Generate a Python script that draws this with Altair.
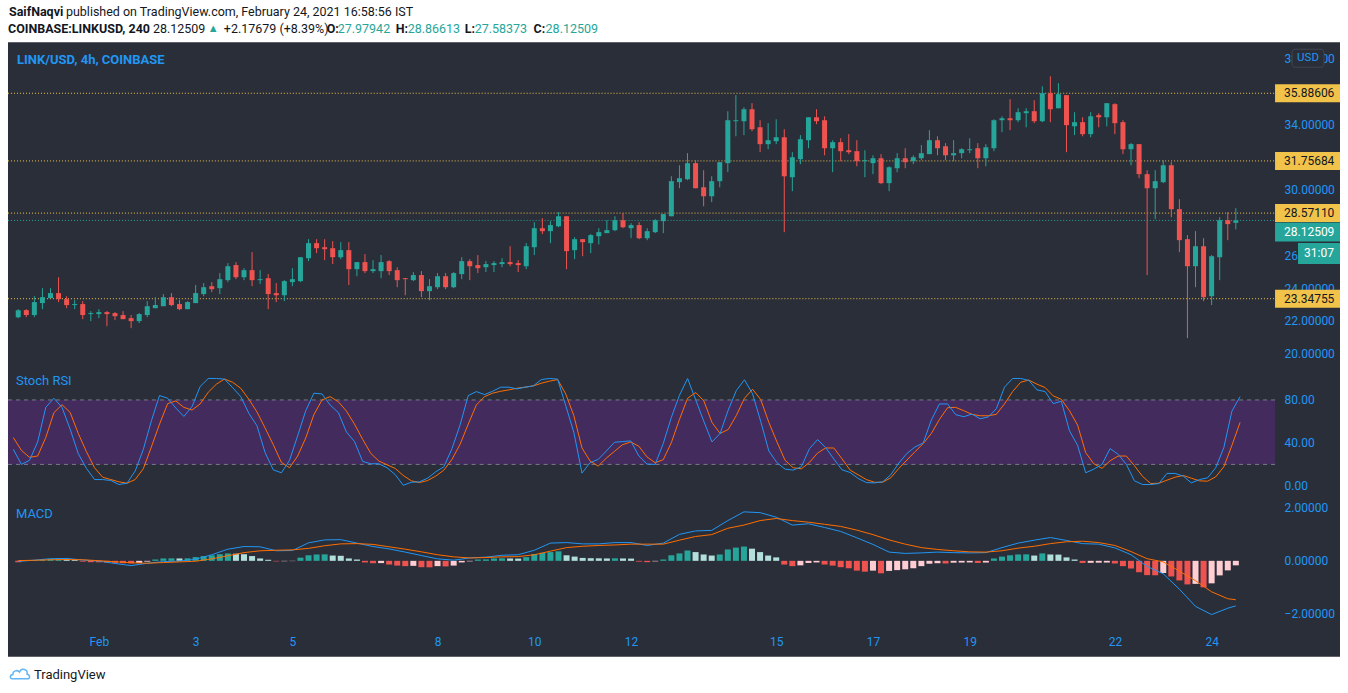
import altair as alt
import pandas as pd

# ---------------- data ----------------
opens = [22.22, 22.65, 22.35, 23.08, 23.38, 23.69, 23.32, 22.96, 23.02, 22.41,
         22.41, 22.53, 22.47, 22.35, 22.16, 21.98, 22.35, 22.77, 22.89, 23.44,
         23.02, 22.71, 23.08, 23.63, 24.11, 23.99, 24.48, 25.40, 24.66, 25.09,
         24.48, 24.60, 23.69, 23.56, 24.36, 24.42, 25.82, 26.74, 26.49, 26.43,
         25.88, 26.31, 25.15, 25.58, 25.03, 25.03, 25.64, 25.09, 24.60, 24.48,
         24.79, 23.81, 24.05, 24.72, 24.05, 24.85, 25.64, 25.40, 25.27, 25.40,
         25.46, 25.58, 25.52, 25.33, 26.49, 27.65, 27.47, 27.77, 28.38, 26.31,
         26.98, 26.74, 27.16, 27.35, 27.53, 28.14, 27.65, 27.84, 27.04, 27.41,
         28.08, 28.38, 30.46, 30.64, 31.62, 30.15, 29.60, 30.52, 31.62, 34.18,
         34.18, 34.91, 33.81, 32.78, 32.96, 33.20, 30.76, 31.86, 33.02, 34.42,
         34.24, 32.53, 32.90, 32.41, 32.35, 31.74, 31.62, 31.92, 30.40, 31.31,
         31.92, 31.74, 31.92, 32.17, 33.02, 32.65, 32.10, 32.23, 32.41, 32.53,
         31.92, 32.53, 34.24, 34.36, 34.24, 34.67, 34.79, 34.18, 35.89, 34.97,
         35.77, 33.87, 34.12, 33.39, 34.55, 34.42, 35.22, 34.12, 32.47, 32.78,
         30.95, 30.09, 30.46, 31.49, 28.81, 26.98, 25.33, 26.55, 23.50, 25.88,
         28.14, 27.98]
highs = [22.71, 22.71, 23.50, 23.99, 23.99, 24.66, 23.50, 23.26, 23.20, 22.59,
         22.71, 22.59, 22.53, 22.59, 22.35, 22.47, 23.20, 23.44, 23.63, 23.69,
         23.26, 23.20, 24.18, 24.30, 24.36, 24.91, 25.52, 25.58, 25.21, 26.19,
         25.09, 24.85, 24.30, 24.48, 25.21, 25.88, 26.98, 26.98, 26.98, 26.86,
         26.80, 26.80, 25.58, 26.07, 25.70, 26.01, 25.70, 25.27, 24.60, 24.97,
         25.03, 24.54, 24.91, 24.91, 24.97, 25.88, 25.76, 26.01, 25.64, 25.64,
         25.82, 26.55, 25.70, 26.74, 28.02, 28.26, 28.08, 28.63, 28.38, 27.10,
         26.98, 27.29, 27.65, 28.14, 28.38, 28.57, 27.96, 28.02, 27.65, 28.20,
         28.51, 30.82, 31.49, 32.23, 31.80, 31.19, 30.82, 31.68, 34.79, 35.77,
         35.03, 35.28, 34.24, 34.06, 34.30, 33.69, 32.29, 33.33, 34.42, 34.91,
         34.48, 33.02, 33.14, 33.39, 33.02, 32.41, 32.10, 32.17, 31.43, 32.23,
         32.53, 32.10, 32.72, 33.63, 33.26, 32.84, 33.02, 32.53, 33.14, 32.84,
         32.78, 34.30, 34.48, 35.52, 34.97, 34.97, 35.46, 36.31, 36.92, 36.50,
         35.77, 34.73, 34.42, 34.73, 34.67, 35.28, 35.28, 34.24, 32.84, 32.78,
         31.19, 31.19, 31.80, 31.68, 29.42, 27.23, 27.47, 27.04, 26.01, 28.32,
         28.63, 28.87]
lows = [22.16, 22.22, 22.22, 22.71, 23.38, 23.14, 22.77, 22.71, 22.10, 21.98,
        22.16, 21.67, 22.04, 22.10, 21.55, 21.86, 22.22, 22.77, 22.89, 22.89,
        22.65, 22.71, 23.08, 23.50, 23.75, 23.63, 24.36, 24.54, 24.48, 24.11,
        24.24, 22.71, 23.14, 23.20, 24.11, 24.36, 25.64, 26.13, 25.70, 25.46,
        25.76, 24.18, 24.72, 24.91, 24.91, 24.60, 24.79, 24.05, 23.56, 24.42,
        23.44, 23.26, 23.93, 23.93, 23.99, 24.54, 24.48, 24.91, 24.97, 24.97,
        25.27, 25.33, 24.97, 25.15, 26.01, 27.29, 26.74, 27.71, 25.15, 25.76,
        25.94, 26.13, 26.66, 27.35, 27.47, 27.65, 27.04, 26.98, 26.92, 27.35,
        27.35, 28.38, 30.09, 30.58, 30.09, 28.99, 29.24, 30.15, 31.07, 33.26,
        33.33, 33.57, 32.29, 32.47, 32.78, 27.41, 29.91, 31.56, 32.53, 34.00,
        32.10, 31.07, 31.74, 32.17, 31.43, 30.76, 30.95, 30.34, 29.91, 31.07,
        31.31, 31.56, 31.80, 32.17, 32.10, 31.80, 31.74, 31.92, 32.23, 31.31,
        31.43, 32.35, 33.51, 33.63, 34.12, 33.81, 34.06, 34.12, 34.12, 34.97,
        32.29, 33.33, 33.26, 33.20, 33.81, 33.87, 33.39, 32.17, 31.49, 30.70,
        24.79, 28.20, 30.40, 28.32, 26.19, 20.94, 24.05, 23.20, 22.96, 24.48,
        26.92, 27.58]
closes = [22.65, 22.35, 23.14, 23.44, 23.69, 23.32, 22.96, 23.02, 22.35, 22.47,
          22.53, 22.41, 22.28, 22.10, 21.98, 22.41, 22.89, 22.96, 23.44, 22.96,
          22.71, 23.14, 23.69, 24.05, 23.93, 24.54, 25.33, 24.66, 25.09, 24.48,
          24.54, 23.63, 23.56, 24.42, 24.54, 25.88, 26.74, 26.43, 26.37, 25.88,
          26.31, 25.15, 25.58, 25.03, 25.15, 25.58, 25.03, 24.48, 24.54, 24.79,
          23.81, 24.11, 24.72, 24.05, 24.91, 25.64, 25.33, 25.21, 25.46, 25.52,
          25.58, 25.46, 25.40, 26.55, 27.65, 27.47, 27.84, 28.38, 26.25, 26.98,
          26.80, 27.23, 27.41, 27.53, 28.14, 27.71, 27.84, 27.04, 27.47, 28.14,
          28.51, 30.52, 30.70, 31.62, 30.09, 29.60, 30.52, 31.68, 34.24, 34.24,
          34.91, 33.69, 32.78, 33.02, 33.20, 30.82, 31.98, 33.08, 34.42, 34.18,
          32.53, 32.90, 32.35, 32.29, 31.74, 31.80, 31.92, 30.40, 31.37, 31.92,
          31.68, 31.98, 32.23, 33.02, 32.53, 32.10, 32.23, 32.47, 32.47, 31.92,
          32.59, 34.24, 34.36, 34.24, 34.73, 34.79, 34.18, 35.89, 34.91, 35.83,
          33.94, 34.12, 33.39, 34.48, 34.42, 35.28, 34.06, 32.47, 32.78, 30.95,
          30.09, 30.52, 31.49, 28.81, 26.92, 25.33, 26.55, 23.44, 25.94, 28.14,
          27.90, 28.13]

stoch_k = [34.1, 20.0, 23.8, 40.9, 73.1, 81.6, 73.1, 52.8, 30.0, 16.3,
           5.9, 5.9, 5.0, 1.3, 2.5, 13.8, 33.8, 60.6, 84.1, 81.6,
           72.5, 64.7, 73.8, 92.5, 100.0, 100.0, 99.4, 91.5, 83.1, 67.5,
           55.9, 30.9, 15.0, 12.2, 23.8, 46.6, 70.0, 86.3, 85.6, 75.3,
           68.4, 50.3, 41.3, 22.8, 20.6, 20.6, 16.9, 10.6, 0.6, 3.4,
           3.8, 7.2, 13.1, 17.8, 34.7, 56.9, 84.1, 87.8, 85.0, 88.1,
           91.9, 91.9, 90.3, 91.9, 93.1, 99.0, 100.0, 99.4, 74.7, 49.7,
           11.9, 21.6, 24.7, 32.5, 40.6, 41.3, 41.9, 27.8, 20.3, 20.0,
           39.4, 63.8, 84.4, 100.0, 80.0, 60.0, 40.9, 48.8, 70.6, 88.8,
           98.8, 85.6, 60.0, 32.5, 21.6, 15.6, 14.7, 17.8, 34.7, 43.1,
           35.6, 25.0, 15.0, 12.5, 6.9, 3.1, 2.8, 3.8, 10.3, 21.3,
           30.3, 36.3, 40.0, 61.3, 76.3, 76.3, 66.3, 64.4, 66.9, 62.5,
           64.1, 71.9, 91.9, 100.0, 100.0, 98.2, 89.4, 87.8, 76.6, 78.8,
           51.3, 37.8, 12.2, 15.6, 20.0, 34.7, 29.4, 20.0, 4.7, 1.3,
           1.3, 2.2, 11.6, 11.6, 9.1, 2.8, 5.9, 7.5, 16.9, 35.6,
           69.7, 83.1]
stoch_d = [45.0, 33.1, 26.6, 27.8, 45.0, 68.1, 75.6, 68.4, 48.8, 31.9,
           16.9, 8.1, 5.9, 3.8, 2.5, 5.9, 15.9, 36.3, 57.5, 76.6,
           79.1, 73.1, 70.6, 76.3, 87.2, 94.7, 99.5, 96.5, 90.9, 80.6,
           68.8, 53.8, 38.4, 21.9, 16.9, 27.8, 44.7, 66.3, 80.0, 83.1,
           78.4, 69.7, 57.5, 43.4, 30.3, 23.1, 19.7, 16.3, 9.7, 4.7,
           3.1, 5.0, 9.1, 14.7, 24.7, 38.8, 57.5, 75.3, 83.1, 86.3,
           88.1, 89.4, 90.9, 91.9, 93.1, 95.6, 97.5, 99.0, 85.6, 65.3,
           35.3, 23.1, 18.4, 25.9, 32.2, 38.4, 40.9, 36.9, 27.0, 21.6,
           24.4, 40.3, 61.9, 81.6, 86.9, 79.1, 59.1, 48.8, 52.5, 65.6,
           81.6, 90.0, 80.3, 59.1, 40.9, 23.8, 16.9, 15.9, 21.9, 30.6,
           35.3, 35.3, 25.3, 14.7, 10.3, 5.9, 3.4, 3.4, 7.5, 16.3,
           24.1, 31.9, 39.4, 48.8, 61.9, 72.8, 73.1, 70.0, 66.6, 65.3,
           65.3, 66.6, 76.3, 87.8, 96.5, 98.5, 94.7, 91.6, 83.8, 80.6,
           70.0, 56.6, 30.9, 20.6, 16.3, 23.4, 27.8, 27.8, 18.8, 8.8,
           2.2, 2.5, 5.3, 8.1, 9.7, 7.2, 4.7, 4.4, 8.4, 17.8,
           37.8, 59.1]

macd_idx = list(range(0, 151, 2)) + [151]
macd_line = [-0.02, 0.025, 0.08, 0.09, 0.03, -0.01, -0.10, -0.18, -0.09, -0.03,
             -0.01, 0.06, 0.23, 0.44, 0.54, 0.53, 0.38, 0.39, 0.68, 0.79,
             0.80, 0.67, 0.54, 0.45, 0.33, 0.20, 0.075, 0.025, 0.11, 0.14,
             0.21, 0.23, 0.40, 0.67, 0.69, 0.64, 0.64, 0.69, 0.69, 0.58,
             0.67, 1.00, 1.13, 1.15, 1.52, 1.85, 1.82, 1.65, 1.35, 1.40,
             1.26, 1.11, 0.87, 0.62, 0.33, 0.28, 0.30, 0.33, 0.31, 0.30,
             0.31, 0.50, 0.67, 0.78, 0.88, 0.77, 0.65, 0.63, 0.49, 0.23,
             -0.21, -0.49, -1.07, -1.72, -2.03, -1.79,
             -1.70]
signal_line = [0.01, 0.02, 0.04, 0.05, 0.04, 0.005, -0.035, -0.075, -0.09, -0.065,
               -0.04, -0.015, 0.075, 0.19, 0.31, 0.38, 0.40, 0.415, 0.47, 0.57,
               0.64, 0.65, 0.62, 0.53, 0.44, 0.34, 0.23, 0.15, 0.11, 0.125,
               0.15, 0.16, 0.23, 0.365, 0.50, 0.55, 0.58, 0.60, 0.63, 0.63,
               0.63, 0.78, 0.92, 0.99, 1.23, 1.35, 1.52, 1.60, 1.52, 1.46,
               1.38, 1.30, 1.16, 0.99, 0.79, 0.63, 0.50, 0.43, 0.38, 0.34,
               0.33, 0.38, 0.48, 0.55, 0.65, 0.72, 0.74, 0.69, 0.58, 0.35,
               0.08, -0.04, -0.39, -0.75, -1.17, -1.43,
               -1.47]
macd_hist = [-0.05, 0.02, 0.03, 0.05, 0.075, 0.08, 0.075, 0.05, -0.03, -0.05,
             -0.055, -0.065, -0.075, -0.09, -0.095, -0.08, -0.03, 0.05, 0.09, 0.095,
             0.09, 0.095, 0.14, 0.18, 0.21, 0.25, 0.28, 0.27, 0.25, 0.18,
             0.09, 0.04, -0.02, -0.015, -0.01, 0.12, 0.21, 0.24, 0.245, 0.20,
             0.19, 0.09, 0.05, -0.06, -0.09, -0.085, -0.14, -0.18, -0.20, -0.19,
             -0.24, -0.245, -0.20, -0.21, -0.18, -0.06, -0.02, 0.05, 0.055, 0.09,
             0.095, 0.09, 0.085, 0.14, 0.26, 0.30, 0.33, 0.36, 0.21, 0.16,
             0.11, 0.10, 0.095, 0.09, 0.095, 0.09, 0.085, -0.03, -0.05, -0.02,
             0.05, 0.21, 0.28, 0.39, 0.33, 0.24, 0.20, 0.24, 0.43, 0.50,
             0.54, 0.46, 0.33, 0.20, 0.13, -0.14, -0.20, -0.17, -0.08, -0.06,
             -0.14, -0.18, -0.24, -0.28, -0.37, -0.41, -0.37, -0.47, -0.38, -0.35,
             -0.32, -0.28, -0.20, -0.11, -0.09, -0.10, -0.07, -0.065, -0.06, -0.08,
             -0.065, 0.09, 0.16, 0.21, 0.24, 0.245, 0.20, 0.28, 0.24, 0.235,
             0.13, 0.05, -0.08, -0.075, -0.07, -0.065, -0.10, -0.20, -0.29, -0.43,
             -0.54, -0.545, -0.46, -0.59, -0.74, -0.89, -0.87, -1.00, -0.85, -0.55,
             -0.36, -0.17]

levels = [35.88606, 31.75684, 28.57110, 23.34755]
last_price = 28.12509
countdown = "31:07"

tick_idx = [10, 22, 34, 52, 64, 76, 94, 106, 118, 136, 148]
tick_lab = ["Feb", "3", "5", "8", "10", "12", "15", "17", "19", "22", "24"]
# 28, 32 and 36 sit fully under the level labels in the reference, so only the visible ones
price_ticks = [20, 22, 24, 26, 30, 34, 38]
stoch_ticks = [0, 40, 80]
macd_ticks = [-2, 0, 2]

# ---------------- layout / style ----------------
FONT = "Roboto"
BG = "#2A2E39"
AXBLUE = "#2196F3"
UP = "#26A69A"
DOWN = "#EF5350"
YEL = "#F2C34A"
PURPLE = "#432B5E"
KBLUE = "#2196F3"
DORANGE = "#FF6D00"
TXT = "#131722"

PANE_W = 1333
PLOT_R = 1268
HEAD_H, PRICE_H, STOCH_H, MACD_H, FOOT_H = 42, 326, 129, 160, 36
X_DOM = [-0.65, 163.3]
P_DOM = [19.12, 39.0]
S_DOM = [-10.23, 109.77]
M_DOM = [-3.623, 2.415]
PXU = PRICE_H / (P_DOM[1] - P_DOM[0])

one = pd.DataFrame({"k": [0]})
xs = alt.Scale(domain=X_DOM, nice=False, zero=False)


def yaxis(values, fmt):
    return alt.Axis(orient="right", offset=-(PANE_W - PLOT_R), values=values, format=fmt,
                    labelColor=AXBLUE, labelFont=FONT, labelFontSize=12, labelAlign="left",
                    labelBaseline="middle", labelPadding=9, ticks=False, domain=False,
                    grid=False, title=None, labelOverlap=False, labelBound=False)


def txt(s, x, y, size=12.5, weight="normal", color=TXT, align="left"):
    return alt.Chart(one).mark_text(text=s, align=align, baseline="middle", font=FONT,
                                    fontSize=size, fontWeight=weight, color=color).encode(
        x=alt.value(x), y=alt.value(y))


# ---------------- header ----------------
header = alt.layer(
    txt("SaifNaqvi", 1, 12, weight="bold"),
    txt("published on TradingView.com, February 24, 2021 16:58:56 IST", 58, 12),
    txt("COINBASE:LINKUSD, 240", 0, 29, weight="bold"),
    txt("28.12509", 145, 29),
    txt("▲", 200, 29, size=11, color=UP),
    txt("+2.17679 (+8.39%)", 216, 29),
    txt("O:", 319, 29, weight="bold"),
    txt("27.97942", 330, 29, color=UP),
    txt("H:", 388, 29, weight="bold"),
    txt("28.86613", 400, 29, color=UP),
    txt("L:", 457, 29, weight="bold"),
    txt("27.58373", 467, 29, color=UP),
    txt("C:", 526, 29, weight="bold"),
    txt("28.12509", 538, 29, color=UP),
).properties(width=PANE_W, height=HEAD_H)

# ---------------- price pane ----------------
ps = alt.Scale(domain=P_DOM, nice=False, zero=False)
pax = yaxis(price_ticks, ".5f")
cdf = pd.DataFrame({"i": list(range(len(opens))), "o": opens, "h": highs, "l": lows, "c": closes})
ccol = alt.condition("datum.c >= datum.o", alt.value(UP), alt.value(DOWN))
X = alt.X("i:Q", scale=xs, axis=None)

wicks = alt.Chart(cdf).mark_rule(strokeWidth=1).encode(
    x=X, y=alt.Y("l:Q", scale=ps, axis=pax), y2="h:Q", color=ccol)
bodies = alt.Chart(cdf).mark_bar(size=5).encode(
    x=X, y=alt.Y("o:Q", scale=ps, axis=pax), y2="c:Q", color=ccol)

ldf = pd.DataFrame({"p": levels, "lab": [f"{v:.5f}" for v in levels]})
ldf["top"] = ldf["p"] + 9 / PXU
ldf["bot"] = ldf["p"] - 9 / PXU
lvl_rules = alt.Chart(ldf).mark_rule(color=YEL, strokeDash=[1, 2], strokeWidth=1).encode(
    y=alt.Y("p:Q", scale=ps, axis=pax), x=alt.value(0), x2=alt.value(PLOT_R))
lvl_box = alt.Chart(ldf).mark_rect(color=YEL).encode(
    y=alt.Y("top:Q", scale=ps, axis=pax), y2="bot:Q", x=alt.value(PLOT_R), x2=alt.value(PANE_W))
lvl_txt = alt.Chart(ldf).mark_text(align="left", baseline="middle", font=FONT, fontSize=12,
                                   color=TXT).encode(
    y=alt.Y("p:Q", scale=ps, axis=pax), x=alt.value(PLOT_R + 9), text="lab:N")

lp = pd.DataFrame({"p": [last_price], "lab": [f"{last_price:.5f}"], "cd": [countdown]})
lp["bc"] = lp["p"] - 11.5 / PXU
lp["btop"] = lp["bc"] + 9.5 / PXU
lp["bbot"] = lp["bc"] - 9.5 / PXU
lp["cc"] = lp["p"] - 33 / PXU
lp["ctop"] = lp["cc"] + 10.5 / PXU
lp["cbot"] = lp["cc"] - 10.5 / PXU
lp_rule = alt.Chart(lp).mark_rule(color=UP, strokeDash=[1, 2], strokeWidth=1).encode(
    y=alt.Y("p:Q", scale=ps, axis=pax), x=alt.value(0), x2=alt.value(PLOT_R))
lp_box = alt.Chart(lp).mark_rect(color=UP).encode(
    y=alt.Y("btop:Q", scale=ps, axis=pax), y2="bbot:Q", x=alt.value(PLOT_R), x2=alt.value(PANE_W))
lp_txt = alt.Chart(lp).mark_text(align="left", baseline="middle", font=FONT, fontSize=12,
                                 color="white").encode(
    y=alt.Y("bc:Q", scale=ps, axis=pax), x=alt.value(PLOT_R + 9), text="lab:N")
cd_box = alt.Chart(lp).mark_rect(color=UP).encode(
    y=alt.Y("ctop:Q", scale=ps, axis=pax), y2="cbot:Q", x=alt.value(1291), x2=alt.value(PANE_W))
cd_txt = alt.Chart(lp).mark_text(align="center", baseline="middle", font=FONT, fontSize=12,
                                 color="white").encode(
    y=alt.Y("cc:Q", scale=ps, axis=pax), x=alt.value(1312), text="cd:N")

usd_btn = alt.Chart(one).mark_rect(fill=BG, stroke="#434651", strokeWidth=1, cornerRadius=3).encode(
    x=alt.value(1285), x2=alt.value(1317), y=alt.value(7), y2=alt.value(25))
usd_txt = txt("USD", 1301, 16, size=11.5, color=AXBLUE, align="center")
p_title = txt("LINK/USD, 4h, COINBASE", 9, 18, size=13, weight="bold", color=AXBLUE)

price = alt.layer(lvl_rules, lp_rule, wicks, bodies, lvl_box, lvl_txt, lp_box, lp_txt,
                  cd_box, cd_txt, usd_btn, usd_txt, p_title).properties(
    width=PANE_W, height=PRICE_H, view=alt.ViewBackground(fill=BG, strokeWidth=0))

# ---------------- stoch RSI pane ----------------
ss = alt.Scale(domain=S_DOM, nice=False, zero=False)
sax = yaxis(stoch_ticks, ".2f")
sdf = pd.DataFrame({"i": list(range(len(stoch_k))), "k": stoch_k, "d": stoch_d})
band = alt.Chart(one).mark_rect(color=PURPLE).encode(
    y=alt.Y(datum=80, scale=ss, axis=sax), y2=alt.Y2(datum=20), x=alt.value(0), x2=alt.value(PLOT_R))
bdf = pd.DataFrame({"v": [80, 20]})
band_lines = alt.Chart(bdf).mark_rule(color="#787B86", strokeDash=[4, 4], strokeWidth=1).encode(
    y=alt.Y("v:Q", scale=ss, axis=sax), x=alt.value(0), x2=alt.value(PLOT_R))
kline = alt.Chart(sdf).mark_line(color=KBLUE, strokeWidth=1).encode(
    x=X, y=alt.Y("k:Q", scale=ss, axis=sax))
dline = alt.Chart(sdf).mark_line(color=DORANGE, strokeWidth=1).encode(
    x=X, y=alt.Y("d:Q", scale=ss, axis=sax))
s_title = txt("Stoch RSI", 8, 13, size=13, color=AXBLUE)
stoch = alt.layer(band, band_lines, dline, kline, s_title).properties(
    width=PANE_W, height=STOCH_H, view=alt.ViewBackground(fill=BG, strokeWidth=0))

# ---------------- MACD pane ----------------
ms = alt.Scale(domain=M_DOM, nice=False, zero=False)
max_ = yaxis(macd_ticks, ".5f")
states = []
prev = None
for h in macd_hist:
    if h >= 0:
        states.append("grow_above" if (prev is None or h > prev) else "fall_above")
    else:
        states.append("fall_below" if (prev is None or h < prev) else "grow_below")
    prev = h
hdf = pd.DataFrame({"i": list(range(len(macd_hist))), "h": macd_hist, "s": states})
lab_expr = " : ".join(f"datum.value == {i} ? '{l}'" for i, l in zip(tick_idx, tick_lab)) + " : ''"
xax = alt.Axis(values=tick_idx, labelExpr=lab_expr, orient="bottom", offset=-25, grid=False,
               ticks=False, domain=False, labelColor=AXBLUE, labelFont=FONT, labelFontSize=12,
               labelPadding=5, title=None, labelFlush=False, labelOverlap=False)
hist = alt.Chart(hdf).mark_bar(size=6).encode(
    x=alt.X("i:Q", scale=xs, axis=xax),
    y=alt.Y("h:Q", scale=ms, axis=max_), y2=alt.Y2(datum=0),
    color=alt.Color("s:N", legend=None, scale=alt.Scale(
        domain=["grow_above", "fall_above", "grow_below", "fall_below"],
        range=["#26A69A", "#B2DFDB", "#FFCDD2", "#EF5350"])))
mdf = pd.DataFrame({"i": macd_idx, "m": macd_line, "s": signal_line})
mline = alt.Chart(mdf).mark_line(color=KBLUE, strokeWidth=1).encode(
    x=alt.X("i:Q", scale=xs, axis=xax), y=alt.Y("m:Q", scale=ms, axis=max_))
sline = alt.Chart(mdf).mark_line(color=DORANGE, strokeWidth=1).encode(
    x=alt.X("i:Q", scale=xs, axis=xax), y=alt.Y("s:Q", scale=ms, axis=max_))
m_title = txt("MACD", 8, 17, size=13, color=AXBLUE)
macd = alt.layer(hist, mline, sline, m_title).properties(
    width=PANE_W, height=MACD_H, view=alt.ViewBackground(fill=BG, strokeWidth=0))

# ---------------- footer ----------------
cloud = "M -0.9 0.45 C -1.15 0.45 -1.15 0.0 -0.8 -0.02 C -0.8 -0.45 -0.3 -0.6 -0.05 -0.3 C 0.15 -0.8 0.9 -0.65 0.8 -0.05 C 1.15 0.0 1.15 0.45 0.85 0.45 Z"
logo = alt.Chart(one).mark_point(shape=cloud, size=320, filled=False, stroke="#2196F3",
                                 strokeWidth=1.5).encode(x=alt.value(12), y=alt.value(18))
footer = alt.layer(logo, txt("TradingView", 26, 18, size=13, color="#131722")).properties(
    width=PANE_W, height=FOOT_H)

chart = alt.vconcat(header, price, stoch, macd, footer, spacing=0).properties(
    padding={"left": 7, "right": 8, "top": 0, "bottom": 0}, background="white"
).configure_view(strokeWidth=0)

chart.save("out.html", embed_options={"renderer": "svg", "actions": False})
